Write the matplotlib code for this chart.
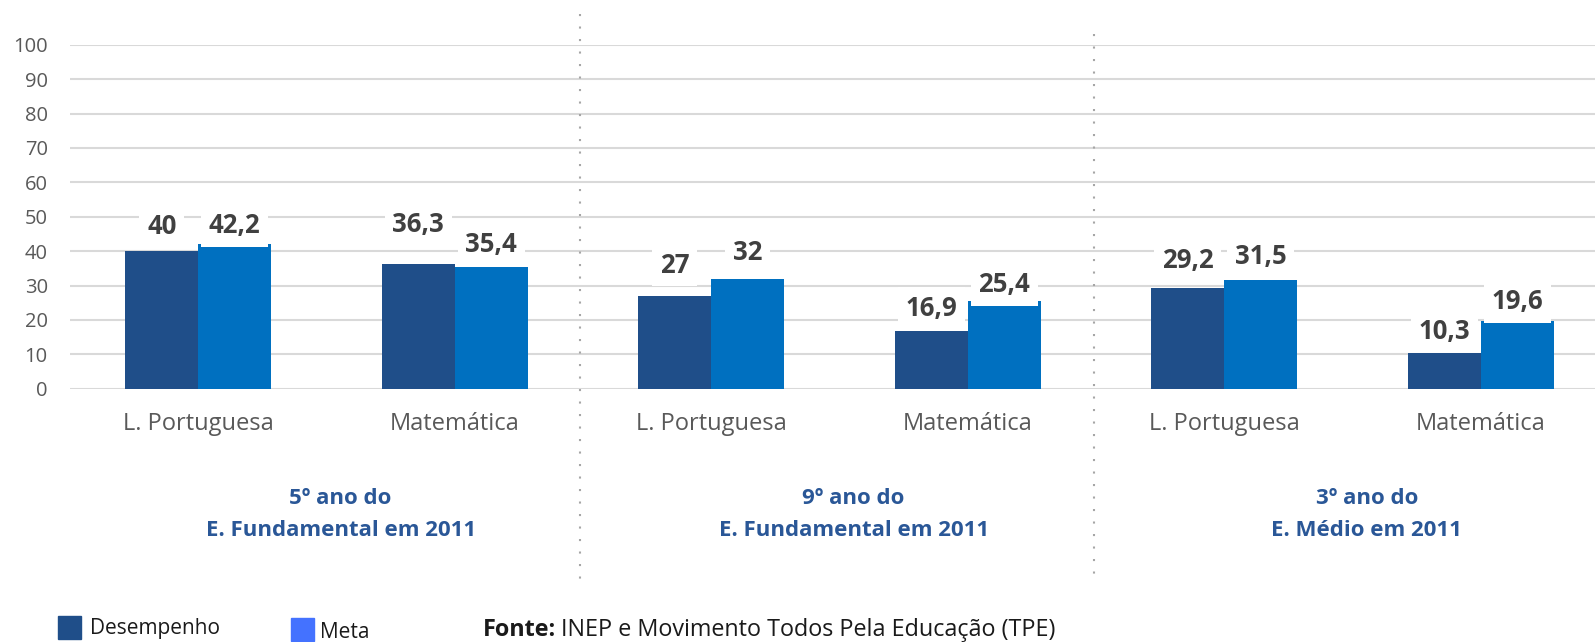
import matplotlib.pyplot as plt
from matplotlib.patches import Rectangle
import numpy as np

plt.rcParams['font.family'] = ['Open Sans', 'DejaVu Sans']

categories = ["L. Portuguesa", "Matemática", "L. Portuguesa", "Matemática",
              "L. Portuguesa", "Matemática"]
desempenho = [40, 36.3, 27, 16.9, 29.2, 10.3]
meta = [42.2, 35.4, 32, 25.4, 31.5, 19.6]
groups = [("5º ano do", "E. Fundamental em 2011"),
          ("9º ano do", "E. Fundamental em 2011"),
          ("3º ano do", "E. Médio em 2011")]
yticks = list(range(0, 101, 10))
fonte = "INEP e Movimento Todos Pela Educação (TPE)"

# label offsets above bar top, in points (hand placed like the original)
off_desemp = [18, 28, 22, 16, 20, 16]
off_meta = [13, 16, 19, 12, 17, 14]

dark = "#1F4E89"
blue = "#0070C0"
legend_blue = "#4472FF"
group_color = "#2A5797"
W, H = 1595, 642


def fmt(v):
    s = ("%.1f" % v).replace(".", ",")
    return s[:-2] if s.endswith(",0") else s


fig = plt.figure(figsize=(W / 100, H / 100), dpi=100)
ax = fig.add_axes([70 / W, (H - 388.7) / H, (W - 70) / W, 344 / H])

x = np.arange(len(categories))
w = 0.285
b1 = ax.bar(x - w / 2, desempenho, w, color=dark, zorder=2)
b2 = ax.bar(x + w / 2, meta, w, color=blue, zorder=2)

for bars, vals, offs in [(b1, desempenho, off_desemp), (b2, meta, off_meta)]:
    for r, v, o in zip(bars, vals, offs):
        ax.annotate(fmt(v), (r.get_x() + r.get_width() / 2, v),
                    xytext=(0, o), textcoords="offset points",
                    ha="center", va="center", fontsize=18.5, fontweight="bold",
                    color="#404040", zorder=3,
                    bbox=dict(boxstyle="square,pad=0.3", fc="white", ec="none"))

ax.set_xlim(-0.5, 5.445)
ax.set_ylim(0, 100)
ax.set_yticks(yticks)
ax.set_xticks(x)
ax.set_xticklabels(categories)
ax.tick_params(axis="x", length=0, pad=17, labelsize=17, labelcolor="#595959")
ax.tick_params(axis="y", length=0, pad=16, labelsize=14.5, labelcolor="#595959")
ax.yaxis.grid(True, color="#D9D9D9", lw=1.5, zorder=0)
ax.set_axisbelow(True)
for s in ax.spines.values():
    s.set_visible(False)

tr = ax.get_xaxis_transform()
for g, (l1, l2) in enumerate(groups):
    cx = 2 * g + 0.5 + 0.055
    ax.text(cx, -0.318, l1, transform=tr, ha="center", va="center",
            fontsize=16, fontweight="bold", color=group_color)
    ax.text(cx, -0.411, l2, transform=tr, ha="center", va="center",
            fontsize=16, fontweight="bold", color=group_color)

# dotted separators between the groups
ax.plot([1.49, 1.49], [1.089, -0.556], transform=tr, clip_on=False,
        color="#A6A6A6", lw=1.5, ls=(0, (1, 5)))
ax.plot([3.49, 3.49], [1.032, -0.542], transform=tr, clip_on=False,
        color="#A6A6A6", lw=1.5, ls=(0, (1, 5)))

# legend drawn by hand
fig.patches.append(Rectangle((58 / W, (H - 639) / H), 23 / W, 23 / H,
                             transform=fig.transFigure, color=dark))
fig.text(90 / W, (H - 634) / H, "Desempenho", fontsize=15, color="#1A1A1A",
         va="baseline")
fig.patches.append(Rectangle((291 / W, (H - 641) / H), 23 / W, 23 / H,
                             transform=fig.transFigure, color=legend_blue))
fig.text(320 / W, (H - 638) / H, "Meta", fontsize=15, color="#1A1A1A",
         va="baseline")

t = fig.text(483 / W, (H - 636) / H, "Fonte:", fontsize=16.8, fontweight="bold",
             color="#1A1A1A", va="baseline")
r = fig.canvas.get_renderer()
bb = t.get_window_extent(r)
fig.text(bb.x1 / W + 5 / W, (H - 636) / H, fonte, fontsize=16.8,
         color="#1A1A1A", va="baseline")

fig.savefig("out.png", dpi=100)
